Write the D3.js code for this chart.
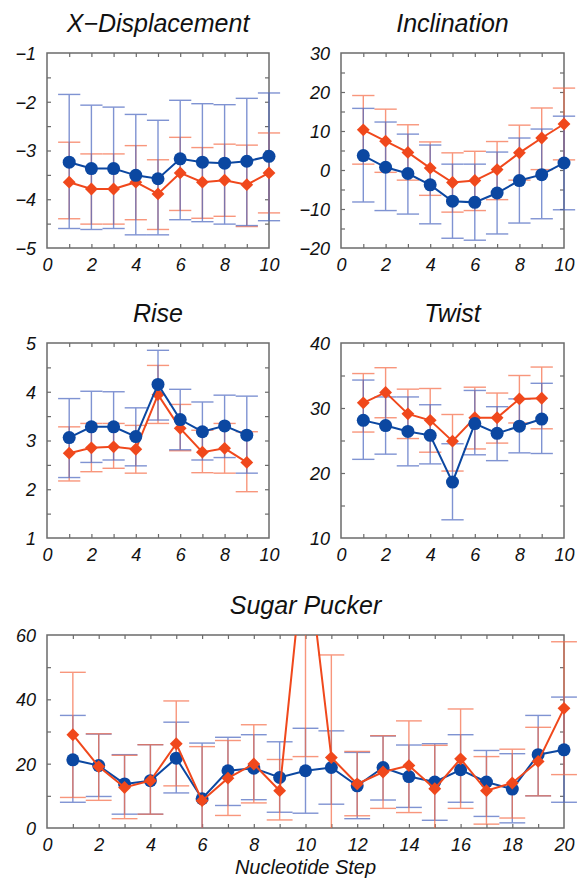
<!DOCTYPE html>
<html>

<head>
  <meta charset="utf8">
  <script src="https://d3js.org/d3.v7.min.js"></script>
  <style>
    body { margin: 0; background: #fff; }
    text { font-family: 'Liberation Sans', Arial, sans-serif; font-style: italic; fill: #111; }
  </style>
</head>

<body>
  <svg id="chart" width="579" height="878"></svg>
  <script>
    // ---- data ----
    var steps10 = [1, 2, 3, 4, 5, 6, 7, 8, 9, 10];
    var steps9 = [1, 2, 3, 4, 5, 6, 7, 8, 9];
    var steps20 = d3.range(1, 21);

    var xdispBlue = [-3.24, -3.37, -3.37, -3.51, -3.58, -3.17, -3.24, -3.26, -3.22, -3.12];
    var xdispBlueHi = [-1.85, -2.07, -2.11, -2.26, -2.38, -1.97, -2.04, -2.06, -1.93, -1.82];
    var xdispBlueLo = [-4.60, -4.62, -4.60, -4.73, -4.73, -4.42, -4.46, -4.51, -4.54, -4.44];
    var xdispRed = [-3.65, -3.79, -3.79, -3.65, -3.89, -3.46, -3.65, -3.61, -3.70, -3.46];
    var xdispRedHi = [-2.83, -3.07, -3.07, -2.90, -3.19, -2.73, -2.94, -2.87, -2.89, -2.64];
    var xdispRedLo = [-4.40, -4.51, -4.51, -4.42, -4.62, -4.23, -4.39, -4.35, -4.56, -4.28];

    var inclBlue = [3.7, 0.7, -0.9, -3.8, -8.0, -8.3, -5.9, -2.7, -1.2, 1.8];
    var inclBlueHi = [15.8, 12.3, 9.2, 6.4, 1.5, 1.5, 4.6, 8.2, 10.5, 13.8];
    var inclBlueLo = [-8.2, -10.4, -11.3, -13.8, -17.5, -18.0, -16.4, -13.6, -12.5, -10.2];
    var inclRed = [10.3, 7.4, 4.5, 0.5, -3.2, -2.7, 0.1, 4.4, 8.2, 11.8];
    var inclRedHi = [19.1, 15.6, 11.6, 7.2, 4.4, 4.8, 7.3, 11.5, 15.9, 21.0];
    var inclRedLo = [1.5, -0.6, -2.6, -6.5, -10.8, -10.4, -7.6, -2.6, 0.1, 2.6];

    var riseBlue = [3.06, 3.28, 3.28, 3.08, 4.15, 3.43, 3.18, 3.30, 3.11];
    var riseBlueHi = [3.86, 4.01, 4.00, 3.67, 4.85, 4.05, 3.79, 3.93, 3.91];
    var riseBlueLo = [2.24, 2.55, 2.60, 2.48, 3.42, 2.81, 2.60, 2.65, 2.33];
    var riseRed = [2.74, 2.85, 2.87, 2.82, 3.94, 3.25, 2.76, 2.84, 2.55];
    var riseRedHi = [3.28, 3.35, 3.35, 3.31, 4.54, 3.74, 3.21, 3.35, 3.18];
    var riseRedLo = [2.17, 2.36, 2.43, 2.33, 3.35, 2.79, 2.34, 2.33, 1.95];

    var twistBlue = [28.1, 27.3, 26.4, 25.8, 18.6, 27.6, 26.1, 27.2, 28.3];
    var twistBlueHi = [34.3, 31.7, 31.7, 30.5, 24.5, 32.7, 30.2, 31.4, 33.8];
    var twistBlueLo = [22.1, 22.9, 21.1, 21.4, 12.8, 22.8, 21.9, 23.1, 23.0];
    var twistRed = [30.8, 32.4, 29.1, 28.1, 24.9, 28.5, 28.5, 31.4, 31.5];
    var twistRedHi = [35.3, 36.2, 32.9, 33.0, 29.0, 33.2, 32.3, 35.0, 36.3];
    var twistRedLo = [26.3, 28.5, 25.3, 23.2, 20.3, 23.7, 24.6, 27.7, 26.8];

    var puckBlue = [21.2, 19.4, 13.7, 14.7, 21.7, 9.1, 17.8, 18.6, 15.7, 17.8,
      18.8, 13.1, 18.8, 16.0, 14.3, 18.1, 14.3, 12.1, 22.8, 24.3];
    var puckBlueHi = [35.0, 29.2, 22.8, 25.9, 32.9, 26.4, 28.2, 29.0, 26.8, 31.0,
      30.2, 23.5, 28.6, 25.8, 26.2, 29.0, 24.1, 23.1, 35.0, 40.7];
    var puckBlueLo = [8.0, 9.8, 4.3, 4.3, 10.9, -2, 7.0, 8.8, 4.9, 4.6,
      7.4, 2.9, 8.7, 6.4, 2.4, 8.0, 3.6, 1.6, 10.0, 8.0];
    var puckRed = [29.0, 19.1, 12.6, 14.7, 26.2, 8.5, 15.5, 19.9, 11.6, 90.0,
      21.9, 13.7, 17.4, 19.4, 12.2, 21.5, 11.6, 14.0, 20.7, 37.2];
    var puckRedHi = [48.4, 29.3, 22.6, 25.9, 39.5, 25.3, 27.2, 32.1, 21.3, 160,
      53.8, 23.8, 28.7, 33.3, 25.7, 37.0, 22.2, 24.5, 31.3, 57.9];
    var puckRedLo = [9.5, 8.6, 2.9, 4.3, 13.1, -5, 3.9, 7.8, 2.5, 22.2,
      -5, 3.8, 6.1, 4.8, -3, 6.1, 1.2, 3.1, 10.0, 16.6];

    var blue = '#0b47a1', blueBar = '#4a66c0';
    var red = '#f0481c', redBar = '#f66a45';

    var chart = d3.select('#chart');

    function zip(xs, v, lo, hi) {
      return xs.map((s, i) => ({ x: s, v: v[i], lo: lo[i], hi: hi[i] }));
    }

    function panel(opt) {
      var w = opt.right - opt.left, h = opt.bottom - opt.top;
      var g = chart.append('g').attr('transform', 'translate(' + opt.left + ',' + opt.top + ')');
      var x = d3.scaleLinear().domain(opt.xd).range([0, w]);
      var y = d3.scaleLinear().domain(opt.yd).range([h, 0]);

      var clipId = 'clip' + opt.id;
      g.append('clipPath').attr('id', clipId).append('rect')
        .attr('x', -30).attr('y', 0).attr('width', w + 60).attr('height', h);

      g.append('rect').attr('width', w).attr('height', h)
        .attr('fill', 'none').attr('stroke', '#6b6b6b').attr('stroke-width', 1.5);

      var xt = d3.range(opt.xd[0] + 1, opt.xd[1], 1);
      var yt = d3.range(opt.yd[0] + opt.ym, opt.yd[1], opt.ym);
      [['b', d3.axisBottom(x).tickValues(xt), 'translate(0,' + h + ')'],
       ['t', d3.axisTop(x).tickValues(xt), null],
       ['l', d3.axisLeft(y).tickValues(yt), null],
       ['r', d3.axisRight(y).tickValues(yt), 'translate(' + w + ',0)']].forEach((a) => {
        var ax = g.append('g').call(a[1].tickSize(-4).tickFormat(''));
        if (a[2]) ax.attr('transform', a[2]);
        ax.select('.domain').remove();
        ax.selectAll('line').attr('stroke', '#6b6b6b').attr('stroke-width', 1.2);
      });

      var fmt = d3.format('~g');
      var bx = g.append('g').attr('transform', 'translate(0,' + h + ')')
        .call(d3.axisBottom(x).tickValues(d3.range(opt.xd[0], opt.xd[1] + 1, 2))
          .tickFormat(fmt).tickSize(0).tickPadding(10));
      bx.select('.domain').remove();
      var ly = g.append('g')
        .call(d3.axisLeft(y).tickValues(d3.range(opt.yd[0], opt.yd[1] + 0.001, opt.yM))
          .tickFormat(fmt).tickSize(0).tickPadding(11));
      ly.select('.domain').remove();
      g.selectAll('.tick text').attr('font-size', 18).attr('font-family', null)
        .style('font-style', 'italic').attr('fill', '#111');
      ly.selectAll('.tick text').attr('dy', '0.36em');

      g.append('text').attr('x', w / 2).attr('y', -21).attr('text-anchor', 'middle')
        .attr('font-size', 25).text(opt.title);

      var series = [
        { d: zip(opt.xs, opt.red, opt.redLo, opt.redHi), c: red, cb: redBar, shape: 'diamond' },
        { d: zip(opt.xs, opt.blue, opt.blueLo, opt.blueHi), c: blue, cb: blueBar, shape: 'circle' }
      ];
      if (opt.redOnTop) series.reverse();

      var plot = g.append('g');
      series.forEach((s) => {
        var eb = plot.append('g').attr('clip-path', 'url(#' + clipId + ')')
          .attr('stroke', s.cb).attr('stroke-width', 1.4).attr('opacity', 0.7);
        eb.selectAll('.v').data(s.d).enter().append('line')
          .attr('x1', (d) => x(d.x)).attr('x2', (d) => x(d.x))
          .attr('y1', (d) => y(d.lo)).attr('y2', (d) => y(d.hi));
        ['lo', 'hi'].forEach((k) => {
          eb.selectAll('.' + k).data(s.d).enter().append('line')
            .attr('x1', (d) => x(d.x - 0.5)).attr('x2', (d) => x(d.x + 0.5))
            .attr('y1', (d) => y(d[k])).attr('y2', (d) => y(d[k]));
        });
      });
      series.forEach((s) => {
        var sg = plot.append('g');
        sg.append('path').datum(s.d).attr('clip-path', 'url(#' + clipId + ')')
          .attr('fill', 'none').attr('stroke', s.c).attr('stroke-width', 2)
          .attr('d', d3.line().x((d) => x(d.x)).y((d) => y(d.v)));
        var inside = s.d.filter((d) => d.v <= opt.yd[1]);
        if (s.shape === 'circle') {
          sg.selectAll('circle').data(inside).enter().append('circle')
            .attr('cx', (d) => x(d.x)).attr('cy', (d) => y(d.v)).attr('r', 6.5).attr('fill', s.c);
        } else {
          var sym = d3.symbol().type(d3.symbolDiamond2).size(105);
          sg.selectAll('path.m').data(inside).enter().append('path').attr('class', 'm')
            .attr('transform', (d) => 'translate(' + x(d.x) + ',' + y(d.v) + ')')
            .attr('d', sym).attr('fill', s.c);
        }
      });
      return g;
    }

    panel({ id: 1, left: 47, right: 269, top: 53, bottom: 248, xd: [0, 10], yd: [-5, -1], yM: 1, ym: 0.5,
      title: 'X\u2212Displacement', xs: steps10,
      blue: xdispBlue, blueLo: xdispBlueLo, blueHi: xdispBlueHi, red: xdispRed, redLo: xdispRedLo, redHi: xdispRedHi });
    panel({ id: 2, left: 341, right: 564, top: 53, bottom: 248, xd: [0, 10], yd: [-20, 30], yM: 10, ym: 5,
      title: 'Inclination', xs: steps10,
      blue: inclBlue, blueLo: inclBlueLo, blueHi: inclBlueHi, red: inclRed, redLo: inclRedLo, redHi: inclRedHi });
    panel({ id: 3, left: 47, right: 269, top: 343, bottom: 538, xd: [0, 10], yd: [1, 5], yM: 1, ym: 0.5,
      title: 'Rise', xs: steps9,
      blue: riseBlue, blueLo: riseBlueLo, blueHi: riseBlueHi, red: riseRed, redLo: riseRedLo, redHi: riseRedHi });
    panel({ id: 4, left: 341, right: 564, top: 343, bottom: 538, xd: [0, 10], yd: [10, 40], yM: 10, ym: 5,
      title: 'Twist', xs: steps9,
      blue: twistBlue, blueLo: twistBlueLo, blueHi: twistBlueHi, red: twistRed, redLo: twistRedLo, redHi: twistRedHi });
    var sp = panel({ id: 5, left: 47, right: 564, top: 635, bottom: 828, xd: [0, 20], yd: [0, 60], yM: 20, ym: 10,
      title: 'Sugar Pucker', xs: steps20, redOnTop: true,
      blue: puckBlue, blueLo: puckBlueLo, blueHi: puckBlueHi, red: puckRed, redLo: puckRedLo, redHi: puckRedHi });
    sp.append('text').attr('x', (564 - 47) / 2).attr('y', 874 - 635).attr('text-anchor', 'middle')
      .attr('font-size', 20).text('Nucleotide Step');
  </script>
</body>

</html>
